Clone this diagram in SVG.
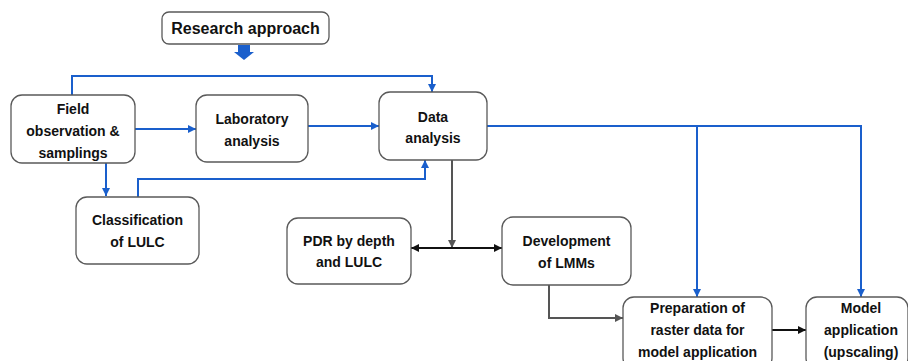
<svg xmlns="http://www.w3.org/2000/svg" width="908" height="361" viewBox="0 0 908 361">
<defs>
<style>
.box{fill:#fff;stroke:#595959;stroke-width:1.3}
.t{font-family:"Liberation Sans",Arial,sans-serif;font-weight:bold;font-size:14px;fill:#111;text-anchor:middle}
.title{font-size:16px}
.blue{fill:none;stroke:#1a5fcc;stroke-width:2}
.gray{fill:none;stroke:#555;stroke-width:2}
.blk{fill:none;stroke:#111;stroke-width:2}
</style>
<marker id="ab" viewBox="0 0 10 10" refX="10" refY="5" markerWidth="8" markerHeight="8" markerUnits="userSpaceOnUse" orient="auto"><path d="M0,0L10,5L0,10z" fill="#1a5fcc"/></marker>
<marker id="ag" viewBox="0 0 10 10" refX="10" refY="5" markerWidth="8" markerHeight="8" markerUnits="userSpaceOnUse" orient="auto"><path d="M0,0L10,5L0,10z" fill="#555"/></marker>
<marker id="ak" viewBox="0 0 10 10" refX="10" refY="5" markerWidth="8" markerHeight="8" markerUnits="userSpaceOnUse" orient="auto"><path d="M0,0L10,5L0,10z" fill="#111"/></marker>
</defs>
<rect width="908" height="361" fill="#fff"/>
<g id="connectors">
<path d="M238,45H250V52H254L244,60L234,52H238Z" fill="#1a5fcc"/>
<path class="blue" d="M72,95V76H432V92" marker-end="url(#ab)"/>
<path class="blue" d="M135,129H196" marker-end="url(#ab)"/>
<path class="blue" d="M308,126H379" marker-end="url(#ab)"/>
<path class="blue" d="M106,163V196" marker-end="url(#ab)"/>
<path class="blue" d="M138,197V179H425V160" marker-end="url(#ab)"/>
<path class="blue" d="M487,126H861V297" marker-end="url(#ab)"/>
<path class="blue" d="M697,126V297" marker-end="url(#ab)"/>
<path class="gray" d="M452,160V248" marker-end="url(#ag)"/>
<path class="blk" d="M456,248H411" marker-end="url(#ak)"/>
<path class="blk" d="M448,248H502" marker-end="url(#ak)"/>
<path class="gray" d="M549,285V318H623" marker-end="url(#ag)"/>
<path class="blk" d="M772,330H806" marker-end="url(#ak)"/>
</g>
<g id="research-approach"><rect class="box" x="162" y="12" width="167" height="32" rx="7"/><text class="t title" x="245.5" y="34">Research approach</text></g>
<g id="field"><rect class="box" x="11" y="95" width="124" height="68" rx="11"/><text class="t" x="73" y="114">Field</text><text class="t" x="73" y="136">observation &amp;</text><text class="t" x="73" y="158">samplings</text></g>
<g id="lab"><rect class="box" x="196" y="95" width="112" height="67" rx="11"/><text class="t" x="252" y="124">Laboratory</text><text class="t" x="252" y="146">analysis</text></g>
<g id="data"><rect class="box" x="379" y="92" width="108" height="68" rx="11"/><text class="t" x="433" y="122">Data</text><text class="t" x="433" y="143">analysis</text></g>
<g id="classification"><rect class="box" x="76" y="197" width="123" height="67" rx="11"/><text class="t" x="137.5" y="225">Classification</text><text class="t" x="137.5" y="247">of LULC</text></g>
<g id="pdr"><rect class="box" x="287" y="218" width="124" height="66" rx="11"/><text class="t" x="349" y="246">PDR by depth</text><text class="t" x="349" y="267">and LULC</text></g>
<g id="lmm"><rect class="box" x="502" y="217" width="129" height="68" rx="11"/><text class="t" x="566.5" y="246">Development</text><text class="t" x="566.5" y="268">of LMMs</text></g>
<g id="prep"><rect class="box" x="623" y="297" width="149" height="72" rx="11"/><text class="t" x="697.5" y="313">Preparation of</text><text class="t" x="697.5" y="335">raster data for</text><text class="t" x="697.5" y="357">model application</text></g>
<g id="model"><rect class="box" x="806" y="297" width="102" height="72" rx="11"/><text class="t" x="861" y="313">Model</text><text class="t" x="861" y="335">application</text><text class="t" x="861" y="357">(upscaling)</text></g>
</svg>
